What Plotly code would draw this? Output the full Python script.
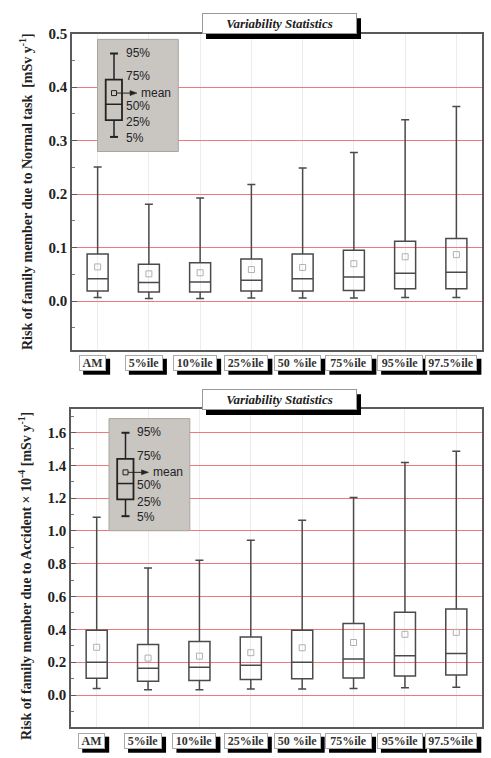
import plotly.graph_objects as go

W, H = 491, 758

categories = ["AM", "5%ile", "10%ile", "25%ile", "50 %ile", "75%ile", "95%ile", "97.5%ile"]
positions = [1, 2, 3, 4, 5, 6, 7, 8]

# Top panel: Normal task [mSv/y]
normal_p5 = [0.007, 0.005, 0.005, 0.006, 0.006, 0.006, 0.007, 0.007]
normal_q1 = [0.019, 0.017, 0.017, 0.019, 0.019, 0.020, 0.023, 0.023]
normal_median = [0.042, 0.035, 0.036, 0.039, 0.042, 0.045, 0.052, 0.054]
normal_q3 = [0.088, 0.069, 0.072, 0.079, 0.088, 0.095, 0.112, 0.117]
normal_p95 = [0.251, 0.181, 0.193, 0.218, 0.249, 0.278, 0.339, 0.364]
normal_mean = [0.064, 0.051, 0.053, 0.059, 0.063, 0.070, 0.083, 0.087]

# Bottom panel: Accident x 1e-4 [mSv/y]
acc_p5 = [0.040, 0.032, 0.032, 0.036, 0.036, 0.040, 0.044, 0.048]
acc_q1 = [0.102, 0.084, 0.089, 0.095, 0.099, 0.104, 0.116, 0.122]
acc_median = [0.199, 0.163, 0.169, 0.181, 0.199, 0.219, 0.239, 0.253]
acc_q3 = [0.394, 0.308, 0.326, 0.354, 0.394, 0.436, 0.505, 0.525]
acc_p95 = [1.084, 0.774, 0.822, 0.943, 1.066, 1.204, 1.417, 1.486]
acc_mean = [0.291, 0.225, 0.237, 0.258, 0.288, 0.320, 0.370, 0.382]

top_ticks = [0.0, 0.1, 0.2, 0.3, 0.4, 0.5]
bottom_ticks = [0.0, 0.2, 0.4, 0.6, 0.8, 1.0, 1.2, 1.4, 1.6]

# label box widths (px) for the category tags
label_widths = [27, 38, 44, 44, 47, 47, 46, 52]

LINE = "#4a4a4a"
GRID_RED = "#f07878"
SERIF = "Liberation Serif, Times New Roman, serif"
SANS = "Liberation Sans, Arial, sans-serif"


def px(x):
    return x / W


def py(y):
    return 1 - y / H


fig = go.Figure()

panels = [
    dict(xa="x", ya="y", p5=normal_p5, q1=normal_q1, med=normal_median, q3=normal_q3,
         p95=normal_p95, mean=normal_mean),
    dict(xa="x2", ya="y2", p5=acc_p5, q1=acc_q1, med=acc_median, q3=acc_q3,
         p95=acc_p95, mean=acc_mean),
]

for p in panels:
    fig.add_trace(go.Box(
        x=positions, q1=p["q1"], median=p["med"], q3=p["q3"],
        lowerfence=p["p5"], upperfence=p["p95"],
        xaxis=p["xa"], yaxis=p["ya"], width=0.41, whiskerwidth=0.38,
        line=dict(color=LINE, width=1.5), fillcolor="rgba(255,255,255,0)",
        boxpoints=False, showlegend=False, hoverinfo="skip",
    ))
    fig.add_trace(go.Scatter(
        x=positions, y=p["mean"], mode="markers", xaxis=p["xa"], yaxis=p["ya"],
        marker=dict(symbol="square-open", size=6, color="#b0b0b0", line=dict(width=1)),
        showlegend=False, hoverinfo="skip",
    ))

# plot area in pixels
top_box = dict(l=72, r=482, t=26, b=346)
bot_box = dict(l=71, r=482, t=405, b=727)

axis_common = dict(showline=True, mirror=True, linecolor="#5a5a5a", linewidth=1.5)
tickfont = dict(family=SERIF, size=15, color="#222", weight="bold")

fig.update_layout(
    width=W, height=H, margin=dict(l=0, r=0, t=0, b=0),
    paper_bgcolor="white", plot_bgcolor="white", showlegend=False,
    xaxis=dict(domain=[px(top_box["l"]), px(top_box["r"])], range=[0.5, 8.5],
               tickvals=positions, showticklabels=False, ticks="",
               showgrid=True, gridcolor="#ececec", gridwidth=1, zeroline=False,
               anchor="y", **axis_common),
    yaxis=dict(domain=[py(top_box["b"]), py(top_box["t"])], range=[-0.092, 0.5],
               tickvals=top_ticks, tickformat=".1f", ticks="inside", ticklen=5,
               tickcolor="#5a5a5a",
               minor=dict(dtick=0.05, tick0=0, ticks="inside", ticklen=3, tickcolor="#777"),
               showgrid=True, gridcolor=GRID_RED, gridwidth=1, zeroline=False,
               tickfont=tickfont, anchor="x", **axis_common),
    xaxis2=dict(domain=[px(bot_box["l"]), px(bot_box["r"])], range=[0.5, 8.5],
                tickvals=positions, showticklabels=False, ticks="",
                showgrid=True, gridcolor="#ececec", gridwidth=1, zeroline=False,
                anchor="y2", **axis_common),
    yaxis2=dict(domain=[py(bot_box["b"]), py(bot_box["t"])], range=[-0.197, 1.745],
                tickvals=bottom_ticks, tickformat=".1f", ticks="inside", ticklen=5,
                tickcolor="#5a5a5a",
                minor=dict(dtick=0.1, tick0=0, ticks="inside", ticklen=3, tickcolor="#777"),
                showgrid=True, gridcolor=GRID_RED, gridwidth=1, zeroline=False,
                tickfont=tickfont, anchor="x2", **axis_common),
)

annotations = []
shapes = []

# y-axis titles
annotations.append(dict(
    text="<b>Risk of family member due to Normal task  [mSv y<sup>-1</sup>]</b>",
    x=px(26), y=py(186), xref="paper", yref="paper", textangle=-90,
    showarrow=False, font=dict(family=SERIF, size=14, color="#222"),
    xanchor="center", yanchor="middle"))
annotations.append(dict(
    text="<b>Risk of family member due to Accident × 10<sup>-4</sup> [mSv y<sup>-1</sup>]</b>",
    x=px(25), y=py(574), xref="paper", yref="paper", textangle=-90,
    showarrow=False, font=dict(family=SERIF, size=14, color="#222"),
    xanchor="center", yanchor="middle"))

# category label boxes with shadows
for xa, label_y in (("x", 358.5), ("x2", 740.5)):
    for pos, cat, w in zip(positions, categories, label_widths):
        shapes.append(dict(
            type="rect", xref=xa, yref="paper", xsizemode="pixel", ysizemode="pixel",
            xanchor=pos, yanchor=py(label_y), x0=-w / 2 - 1, x1=w / 2 - 1,
            y0=-12, y1=4, fillcolor="black", line=dict(width=0), layer="above"))
        annotations.append(dict(
            text="<b>%s</b>" % cat, x=pos, y=py(label_y), xref=xa, yref="paper",
            xanchor="center", yanchor="middle",
            showarrow=False, xshift=-5, width=w - 4, height=12,
            font=dict(family=SERIF, size=12, color="#333"),
            bgcolor="white", bordercolor="#aaa", borderwidth=1, borderpad=1))

# "Variability Statistics" title boxes
for cy in (15.8, 395.8):
    shapes.append(dict(type="rect", xref="paper", yref="paper",
                       x0=px(206), x1=px(361), y0=py(cy + 15.5), y1=py(cy - 5.5),
                       fillcolor="black", line=dict(width=0), layer="above"))
    annotations.append(dict(
        text="<b><i>Variability Statistics</i></b>", x=px(279), y=py(cy), xref="paper",
        yref="paper", xanchor="center", yanchor="middle",
        showarrow=False, width=151, height=17,
        font=dict(family=SERIF, size=13, color="#222"),
        bgcolor="white", bordercolor="#999", borderwidth=1, borderpad=1))

# inset legends
for dx, dy in ((0, 0), (11.5, 383.3)):
    def P(x, y):
        return px(x + dx), py(y + dy)
    x0, y0 = P(97.5, 31.7)
    x1, y1 = P(178.3, 145)
    shapes.append(dict(type="rect", xref="paper", yref="paper", x0=x0, y0=y0, x1=x1, y1=y1,
                       fillcolor="#c9c6c2", line=dict(color="#a8a5a0", width=1), layer="above"))
    wx = 114
    a, b = P(wx, 46)
    c, d = P(wx, 130.3)
    shapes.append(dict(type="line", xref="paper", yref="paper", x0=a, y0=b, x1=c, y1=d,
                       line=dict(color="#222", width=1.5), layer="above"))
    for cyy in (46, 130.3):
        a, b = P(wx - 4, cyy)
        c, d = P(wx + 4, cyy)
        shapes.append(dict(type="line", xref="paper", yref="paper", x0=a, y0=b, x1=c, y1=d,
                           line=dict(color="#222", width=2), layer="above"))
    a, b = P(105.7, 72.3)
    c, d = P(122, 113.3)
    shapes.append(dict(type="rect", xref="paper", yref="paper", x0=a, y0=b, x1=c, y1=d,
                       fillcolor="#c9c6c2", line=dict(color="#222", width=1.8), layer="above"))
    a, b = P(105.7, 97.3)
    c, d = P(122, 97.3)
    shapes.append(dict(type="line", xref="paper", yref="paper", x0=a, y0=b, x1=c, y1=d,
                       line=dict(color="#222", width=1.5), layer="above"))
    a, b = P(111.5, 83.5)
    c, d = P(116.5, 88.5)
    shapes.append(dict(type="rect", xref="paper", yref="paper", x0=a, y0=b, x1=c, y1=d,
                       line=dict(color="#222", width=1), layer="above"))
    # arrow to mean: line + triangle head
    a, b = P(116.5, 86)
    c, d = P(131, 86)
    shapes.append(dict(type="line", xref="paper", yref="paper", x0=a, y0=b, x1=c, y1=d,
                       line=dict(color="#222", width=1), layer="above"))
    t1 = P(130, 83.5)
    t2 = P(137, 86)
    t3 = P(130, 88.5)
    shapes.append(dict(type="path", xref="paper", yref="paper",
                       path="M %f %f L %f %f L %f %f Z" % (t1[0], t1[1], t2[0], t2[1], t3[0], t3[1]),
                       fillcolor="#222", line=dict(color="#222", width=0.5), layer="above"))
    a, b = P(139, 86)
    annotations.append(dict(text="mean", x=a, y=b, xref="paper", yref="paper",
                            showarrow=False, xanchor="left", yanchor="middle",
                            font=dict(family=SANS, size=12, color="#222")))
    for lab, ly in (("95%", 45), ("75%", 69), ("50%", 99), ("25%", 115.5), ("5%", 131.5)):
        a, b = P(123.5, ly)
        annotations.append(dict(text=lab, x=a, y=b, xref="paper", yref="paper",
                                showarrow=False, xanchor="left", yanchor="middle",
                                font=dict(family=SANS, size=12, color="#222")))

fig.update_layout(annotations=annotations, shapes=shapes)

fig.write_html("out.html", config={"displayModeBar": False},
               post_script="document.body.style.margin='0';")
